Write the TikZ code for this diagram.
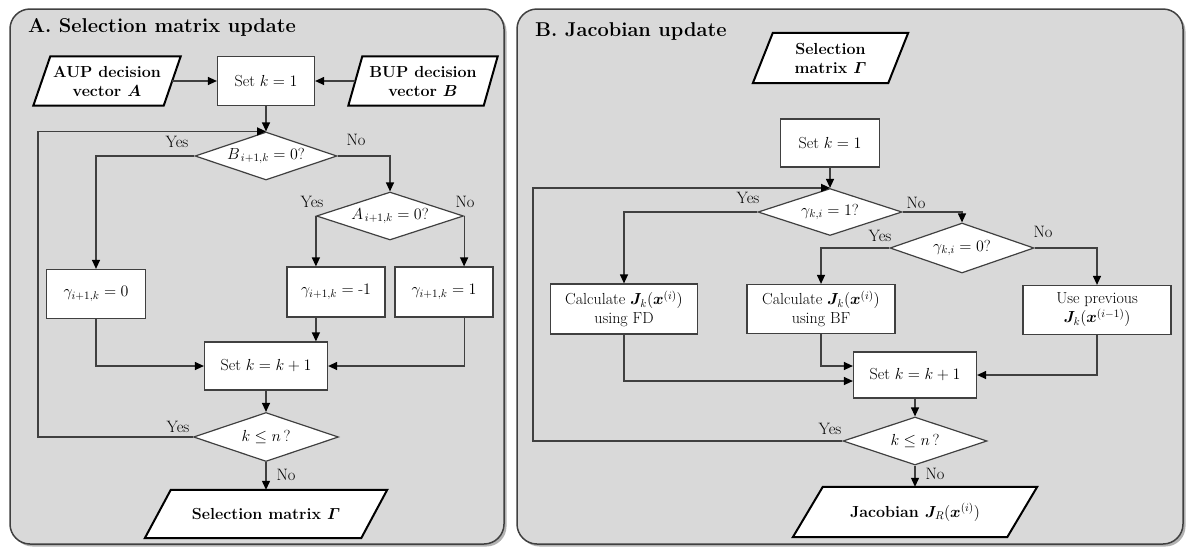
\RequirePackage{fix-cm}
\documentclass[tikz,border=0pt]{standalone}
\usepackage{amsmath}
\usepackage{bm}
\usetikzlibrary{shapes.geometric,arrows.meta,calc}
\pgfdeclarelayer{panel}
\pgfdeclarelayer{bg}
\pgfsetlayers{panel,bg,main}
\definecolor{panelfill}{HTML}{D9D9D9}
\definecolor{edge}{HTML}{404040}
\tikzset{
 panel/.style={rounded corners=20pt, fill=panelfill, draw=edge, line width=1.5pt},
 shadowp/.style={rounded corners=20pt, fill=black!30, draw=none},
 proc/.style={rectangle, draw=edge, fill=white, line width=1.2pt, inner sep=2pt, align=center, font=\rmfamily\fontsize{16}{19}\selectfont},
 dec/.style={diamond, shape aspect=3, draw=edge, fill=white, line width=1.2pt, inner sep=0pt, font=\rmfamily\fontsize{16}{19}\selectfont},
 iobox/.style={rectangle, inner sep=0pt, align=center, font=\rmfamily\fontsize{16}{19}\selectfont\bfseries},
 iodraw/.style={draw=black, fill=white, line width=2pt, line join=miter},
 arr/.style={draw=edge, line width=1.2pt, -{Triangle[length=9pt,width=8pt,color=black]}},
 lab/.style={font=\rmfamily\fontsize{16.5}{19}\selectfont, inner sep=0pt},
 ttl/.style={font=\rmfamily\fontsize{20}{24}\selectfont\bfseries, anchor=west, inner sep=0pt},
}
\newcommand{\iopath}[2]{%
 \begin{pgfonlayer}{bg}
 \draw[iodraw] ($(#1.north west)+(#2,0)$) -- ($(#1.north east)+(#2,0)$) -- ($(#1.south east)-(#2,0)$) -- ($(#1.south west)-(#2,0)$) -- cycle;
 \end{pgfonlayer}}
\begin{document}
\begin{tikzpicture}[x=1pt,y=-1pt]
\useasboundingbox (0,0) rectangle (1190,547);
\begin{pgfonlayer}{panel}
\fill[shadowp] (12.5,11.5) rectangle (506.5,546.5);
\draw[panel] (10,9) rectangle (504,544);
\fill[shadowp] (519.5,11.5) rectangle (1185.5,546.5);
\draw[panel] (517,9) rectangle (1183,544);
\end{pgfonlayer}

% ---------- Panel A ----------
\node[ttl] (titleA) at (28,27) {A. Selection matrix update};

\node[iobox, minimum width=130pt, minimum height=49pt] (aup) at (107,81) {AUP decision\\vector $\bm{A}$};
\iopath{aup}{8.5}
\node[proc, minimum width=97pt, minimum height=49pt] (setA1) at (266,81) {Set $k = 1$};
\node[iobox, minimum width=135pt, minimum height=49pt] (bup) at (423,81) {BUP decision\\vector $\bm{B}$};
\iopath{bup}{7}

\node[dec, minimum width=142pt, minimum height=48pt] (dB) at (266,156) {$B_{\,i+1,k} = 0$?};
\node[dec, minimum width=147pt, minimum height=48pt] (dA) at (390,216) {$A_{\,i+1,k} = 0$?};

\node[proc, minimum width=99pt, minimum height=49pt] (g0) at (96,294) {$\gamma_{i+1,k} = 0$};
\node[proc, minimum width=98pt, minimum height=50pt] (gm1) at (336,292) {$\gamma_{i+1,k} = \text{-}1$};
\node[proc, minimum width=98pt, minimum height=50pt] (g1) at (444,292) {$\gamma_{i+1,k} = 1$};

\node[proc, minimum width=123pt, minimum height=48pt] (setk) at (266,366) {Set $k = k + 1$};
\node[dec, minimum width=145pt, minimum height=49pt] (dK) at (266,437) {$k \leq n$\,?};
\node[iobox, minimum width=216pt, minimum height=48pt] (selA) at (266,514) {Selection matrix $\bm{\varGamma}$};
\iopath{selA}{13}

\coordinate (loopA) at (38,132);

\draw[arr] (aup.east) -- (setA1.west);
\draw[arr] (bup.west) -- (setA1.east);
\draw[arr] (setA1.south) -- (dB.north);
\draw[arr] (dB.west) -| (g0.north);
\draw[arr] (dB.east) -| (dA.north);
\draw[arr] (dA.west) -- (dA.west |- gm1.north);
\draw[arr] (dA.east) -- (dA.east |- g1.north);
\draw[arr] (g0.south) |- (setk.west);
\draw[arr] (dA.west |- gm1.south) -- (dA.west |- setk.north);
\draw[arr] (dA.east |- g1.south) |- (setk.east);
\draw[arr] (setk.south) -- (dK.north);
\draw[arr] (dK.west) -| (loopA |- dB.north) -- (dB.north);
\draw[arr] (dK.south) -- (selA.north);

\node[lab] (yB) at (177,142) {Yes};
\node[lab] (nB) at (356,140) {No};
\node[lab] (yA) at (312,202) {Yes};
\node[lab] (nA) at (465,202) {No};
\node[lab] (yK) at (178,427) {Yes};
\node[lab] (nK) at (286,475) {No};

% ---------- Panel B ----------
\node[ttl] (titleB) at (535,31) {B. Jacobian update};

\node[iobox, minimum width=135pt, minimum height=50pt] (selB) at (830.5,58) {Selection\\matrix $\bm{\varGamma}$};
\iopath{selB}{10}
\node[proc, minimum width=99pt, minimum height=48pt] (setB1) at (830,143) {Set $k = 1$};
\node[dec, minimum width=144pt, minimum height=47pt] (d1) at (830,212) {$\gamma_{k,i} = 1$?};
\node[dec, minimum width=144pt, minimum height=50pt] (d0) at (962,248) {$\gamma_{k,i} = 0$?};

\node[proc, minimum width=147pt, minimum height=50pt] (fd) at (624,309) {Calculate $\bm{J}_{k}(\bm{x}^{(i)})$\\using FD};
\node[proc, minimum width=148pt, minimum height=49pt] (bf) at (821,309) {Calculate $\bm{J}_{k}(\bm{x}^{(i)})$\\using BF};
\node[proc, minimum width=148pt, minimum height=49pt] (up) at (1097,310) {Use previous\\$\bm{J}_{k}(\bm{x}^{(i-1)})$};

\node[proc, minimum width=123pt, minimum height=46pt] (setB) at (915,375) {Set $k = k + 1$};
\node[dec, minimum width=144pt, minimum height=48pt] (dKB) at (915,441) {$k \leq n$\,?};
\node[iobox, minimum width=214pt, minimum height=50pt] (jac) at (915,512) {Jacobian $\bm{J}_{R}(\bm{x}^{(i)})$};
\iopath{jac}{15}

\coordinate (loopB) at (533,188);

\draw[arr] (setB1.south) -- (d1.north);
\draw[arr] (d1.west) -| (fd.north);
\draw[arr] (d1.east) -| (d0.north);
\draw[arr] (d0.west) -| (bf.north);
\draw[arr] (d0.east) -| (up.north);
\draw[arr] (fd.south) |- ($(setB.west)+(0,6)$);
\draw[arr] (bf.south) |- ($(setB.west)+(0,-9)$);
\draw[arr] (up.south) |- (setB.east);
\draw[arr] (setB.south) -- (dKB.north);
\draw[arr] (dKB.west) -| (loopB |- d1.north) -- (d1.north);
\draw[arr] (dKB.south) -- (jac.north);

\node[lab] (y1) at (748,198) {Yes};
\node[lab] (n1) at (916,203) {No};
\node[lab] (y0) at (880,236) {Yes};
\node[lab] (n0) at (1043,232) {No};
\node[lab] (yKB) at (830,429) {Yes};
\node[lab] (nKB) at (935,474) {No};
\end{tikzpicture}
\end{document}
